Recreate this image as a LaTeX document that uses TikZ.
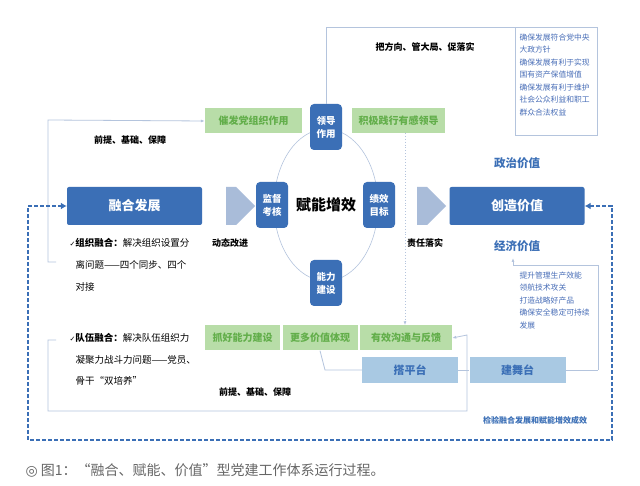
\documentclass[tikz,border=0pt]{standalone}
\usepackage{fontspec}
\setmainfont{Noto Sans CJK SC}
\newfontfamily\dvs{DejaVu Sans}
\usetikzlibrary{arrows.meta,shapes.arrows}
\definecolor{dblue}{HTML}{3B6FB6}
\definecolor{lblue}{HTML}{A9BCD9}
\definecolor{pblue}{HTML}{A9C9E3}
\definecolor{gfill}{HTML}{B8DDA8}
\definecolor{gtext}{HTML}{62AE4A}
\definecolor{lline}{HTML}{B4C4DD}
\definecolor{cur}{HTML}{4A6FB8}
\tikzset{
 bigbox/.style={fill=dblue,rounded corners=2pt,text=white,font=\fontsize{13}{15}\selectfont\bfseries,minimum width=135pt,minimum height=38pt},
 smallbox/.style={fill=dblue,rounded corners=4pt,text=white,font=\fontsize{9.5}{13}\selectfont\bfseries,minimum width=32pt,minimum height=46pt,align=center,inner sep=1pt},
 gbox/.style={fill=gfill,text=gtext,font=\fontsize{10}{12}\selectfont\bfseries,minimum height=25pt,inner sep=1pt},
 pbox/.style={fill=pblue,text=dblue,font=\fontsize{11}{13}\selectfont\bfseries,minimum width=96pt,minimum height=26pt},
 fat/.style={single arrow,fill=lblue,minimum height=29pt,minimum width=38pt,single arrow head extend=0pt,inner sep=0pt},
 lbl/.style={font=\fontsize{9}{10}\selectfont\bfseries},
 body/.style={font=\fontsize{9.5}{11}\selectfont,anchor=west},
 thin/.style={draw=lline,line width=0.8pt},
 cursive/.style={text=cur,font=\fontsize{7.8}{12.5}\selectfont,align=left,anchor=north west},
}
\begin{document}
\begin{tikzpicture}[x=1pt,y=-1pt]
\useasboundingbox[fill=white] (0,0) rectangle (640,486);
\draw[lline,line width=0.6pt] (326,205) ellipse (52 and 76);
\node[bigbox] (rh) at (134.5,206) {融合发展};
\node[bigbox] (cz) at (517,206) {创造价值};
\node[fat] (a1) at (231,206) {};
\node[fat] (a2) at (422,206) {};
\node[smallbox] (ld) at (326,127) {领导\\作用};
\node[smallbox] (jd) at (272,205) {监督\\考核};
\node[smallbox] (jx) at (379,205) {绩效\\目标};
\node[smallbox] (nl) at (326,283) {能力\\建设};
\node[font=\fontsize{15}{16}\selectfont\bfseries] (fn) at (326,205) {赋能增效};
\node[gbox,minimum width=97pt] (cf) at (253.5,121) {催发党组织作用};
\node[gbox,minimum width=93pt] (jj) at (398.5,121) {积极践行有感领导};
\node[gbox,minimum width=75pt] (zh) at (242.5,338) {抓好能力建设};
\node[gbox,minimum width=75pt] (gd) at (320,338) {更多价值体现};
\node[gbox,minimum width=92pt] (yx) at (406,338) {有效沟通与反馈};
\node[pbox] (dp) at (410,370) {搭平台};
\node[pbox] (jw) at (517.5,370) {建舞台};
\node[lbl] (l1) at (130,140) {前提、基础、保障};
\node[lbl] (l2) at (255,392) {前提、基础、保障};
\node[lbl] (l3) at (425,47) {把方向、管大局、促落实};
\node[lbl] (l4) at (230,243) {动态改进};
\node[lbl] (l5) at (425,243) {责任落实};
\node[text=dblue,font=\fontsize{11.5}{13}\selectfont\bfseries] (zz) at (517,163) {政治价值};
\node[text=dblue,font=\fontsize{11.5}{13}\selectfont\bfseries] (jj2) at (517,246) {经济价值};
\node[text=dblue,font=\fontsize{8}{9}\selectfont\bfseries] (jy) at (535,420) {检验融合发展和赋能增效成效};
\node[body] (t1) at (66,243) {{\dvs\fontsize{7}{9}\selectfont ✓}\textbf{组织融合：}解决组织设置分};
\node[body] (t2) at (72,265) {离问题——四个同步、四个};
\node[body] (t3) at (72,287) {对接};
\node[body] (t4) at (66,338) {{\dvs\fontsize{7}{9}\selectfont ✓}\textbf{队伍融合：}解决队伍组织力};
\node[body] (t5) at (72,360) {凝聚力战斗力问题——党员、};
\node[body] (t6) at (72,381) {骨干“双培养”};
\draw[thin] (515,27) rectangle (597,135);
\node[cursive] (c1) at (516,30) {确保发展符合党中央\\大政方针\\确保发展有利于实现\\国有资产保值增值\\确保发展有利于维护\\社会公众利益和职工\\群众合法权益};
\node[cursive] (c2) at (516,268) {提升管理生产效能\\领航技术攻关\\打造战略好产品\\确保安全稳定可持续\\发展};
\coordinate (dtop) at (405,133);
\draw[thin] (ld.north) -- (326,27) -- (515,27);
\draw[thin,-{Latex[length=4pt]}] (56,262) -- (48,262) -- (48,120) -- (cf.west);
\draw[lline,dotted,line width=0.9pt,-{Latex[length=4pt]}] (dtop) -- (dtop |- yx.north);
\draw[thin,-{Latex[length=4pt]}] (598,370) -- (598,265) -- (513,265) -- (513,258);
\draw[thin] (jw.east) -- (598,370);
\draw[thin] (dp.east) -- (jw.west);
\draw[thin,-{Latex[length=4pt]}] (56,340) -- (48,340) -- (48,411) -- (467,411) -- (467,335) -- (yx.east);
\draw[thin] (dp.west) -- (325,370) -- (gd.south);
\draw[dblue,line width=2pt,dash pattern=on 4pt off 2pt,{Latex[length=6pt,width=7pt]}-{Latex[length=6pt,width=7pt]}] (cz.east) -- (612,206) -- (612,440) -- (28,440) -- (28,206) -- (rh.west);
\node[anchor=west,text=gray!80!black,font=\fontsize{14}{16}\selectfont] (cap) at (22,470) {{\dvs ◎} 图1：“融合、赋能、价值”型党建工作体系运行过程。};
\end{tikzpicture}
\end{document}
